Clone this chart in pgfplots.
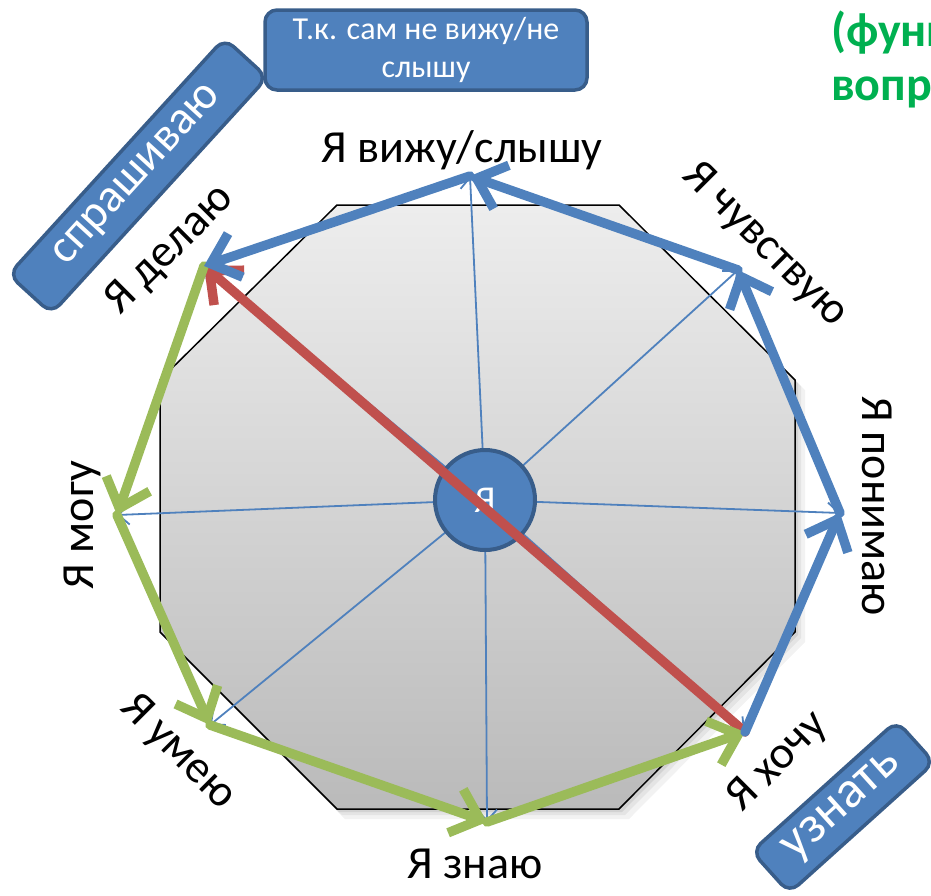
\documentclass[border=0pt]{standalone}
\usepackage{pgfplots}
\pgfplotsset{compat=1.18}
\usepackage{fontspec}
\setmainfont{Carlito}
\usetikzlibrary{arrows.meta}
\definecolor{blueF}{HTML}{4F81BD}
\definecolor{blueD}{HTML}{385D8A}
\definecolor{greenA}{HTML}{9BBB59}
\definecolor{redA}{HTML}{C0504D}
\definecolor{greenT}{HTML}{00B050}
\tikzset{
  thickarr/.style={line width=9.5pt, line cap=round, line join=round,
    -{Straight Barb[length=26pt,width=46pt]}},
  thinarr/.style={blueF, line width=1.8pt,
    -{Straight Barb[length=11pt,width=20pt]}},
  lbl/.style={font=\fontsize{46}{50}\selectfont},
}
\begin{document}
\begin{tikzpicture}
\begin{axis}[name=ax, hide axis, scale only axis,
  width=931pt, height=895pt,
  xmin=0, xmax=931, ymin=0, ymax=895, y dir=reverse,
  clip=true, clip marker paths=true]

% octagon soft shadow and body
\addplot[fill=black, opacity=0.05, draw=none]
  coordinates {(345,215)(627,215)(805,390)(805,642)(629,819)(345,819)(168,642)(168,390)} -- cycle;
\addplot[fill=black, opacity=0.06, draw=none]
  coordinates {(342,211)(624,211)(801,386)(801,638)(625,815)(342,815)(165,638)(165,386)} -- cycle;
\addplot[fill=black, opacity=0.08, draw=none]
  coordinates {(339,208)(621,208)(798,383)(798,635)(622,812)(339,812)(162,635)(162,383)} -- cycle;
\addplot[draw=black, line width=1.5pt, top color=black!7, bottom color=black!27]
  coordinates {(337,205)(619,205)(795,380)(795,632)(619,809)(337,809)(160,632)(160,380)} -- cycle;

% thin spokes from the centre
\addplot[thinarr] coordinates {(485,500)(470,176)};
\addplot[thinarr] coordinates {(485,500)(738,270)};
\addplot[thinarr] coordinates {(485,500)(840,513)};
\addplot[thinarr] coordinates {(485,500)(745,732)};
\addplot[thinarr] coordinates {(485,500)(487,822)};
\addplot[thinarr] coordinates {(485,500)(210,725)};
\addplot[thinarr] coordinates {(485,500)(117,515)};
\addplot[thinarr] coordinates {(485,500)(204,266)};

% centre circle
\addplot[only marks, mark=*, mark size=50pt,
  mark options={fill=blueF, draw=blueD, line width=4pt},
  nodes near coords={Я}, nodes near coords align=center,
  every node near coord/.style={text=white, anchor=center,
    font=\fontsize{38}{40}\selectfont}] coordinates {(485,500)};

% red diagonal
\addplot[thickarr, redA] coordinates {(745,732)(204,266)};

% green chain
\addplot[thickarr, greenA] coordinates {(204,266)(117,515)};
\addplot[thickarr, greenA] coordinates {(117,515)(210,725)};
\addplot[thickarr, greenA] coordinates {(210,725)(487,822)};
\addplot[thickarr, greenA] coordinates {(487,822)(745,732)};

% blue chain
\addplot[thickarr, blueF] coordinates {(745,732)(840,513)};
\addplot[thickarr, blueF] coordinates {(840,513)(738,270)};
\addplot[thickarr, blueF] coordinates {(738,270)(470,176)};
\addplot[thickarr, blueF] coordinates {(470,176)(204,266)};

% labels
\node[lbl, anchor=base] at (axis cs:462,162) {Я вижу/слышу};
\node[lbl, rotate=-45] at (axis cs:765,245) {Я чувствую};
\node[lbl, rotate=-90] at (axis cs:877,506) {Я понимаю};
\node[lbl, rotate=45] at (axis cs:778,762) {Я хочу};
\node[lbl, anchor=base] at (axis cs:475,878) {Я знаю};
\node[lbl, rotate=-45] at (axis cs:178,752) {Я умею};
\node[lbl, rotate=90] at (axis cs:82,525) {Я могу};
\node[lbl, rotate=45] at (axis cs:170,250) {Я делаю};

% boxes
\node[rotate=47.6, fill=blueF, draw=blueD, line width=3.5pt, rounded corners=12pt,
  minimum width=320pt, minimum height=58pt, text=white,
  font=\fontsize{47}{50}\selectfont] at (axis cs:138,176) {спрашиваю};
\node[fill=blueF, draw=blueD, line width=3.5pt, rounded corners=12pt,
  minimum width=322pt, minimum height=80pt, text=white, align=center,
  font=\fontsize{32}{38}\selectfont] at (axis cs:426,50) {Т.к. сам не вижу/не\\слышу};
\node[rotate=42, fill=blueF, draw=blueD, line width=3.5pt, rounded corners=12pt,
  minimum width=195pt, minimum height=56pt, text=white,
  font=\fontsize{52}{56}\selectfont] at (axis cs:843,807) {узнать};

% green note, cut by the right edge
\node[anchor=base west, inner xsep=0pt, text=greenT, font=\bfseries\fontsize{48}{52}\selectfont]
  at (axis cs:831,46) {(функции};
\node[anchor=base west, inner xsep=0pt, text=greenT, font=\bfseries\fontsize{48}{52}\selectfont]
  at (axis cs:831,100) {вопроса)};
\end{axis}
\pgfresetboundingbox
\path[use as bounding box] (ax.south west) rectangle (ax.north east);
\end{tikzpicture}
\end{document}
